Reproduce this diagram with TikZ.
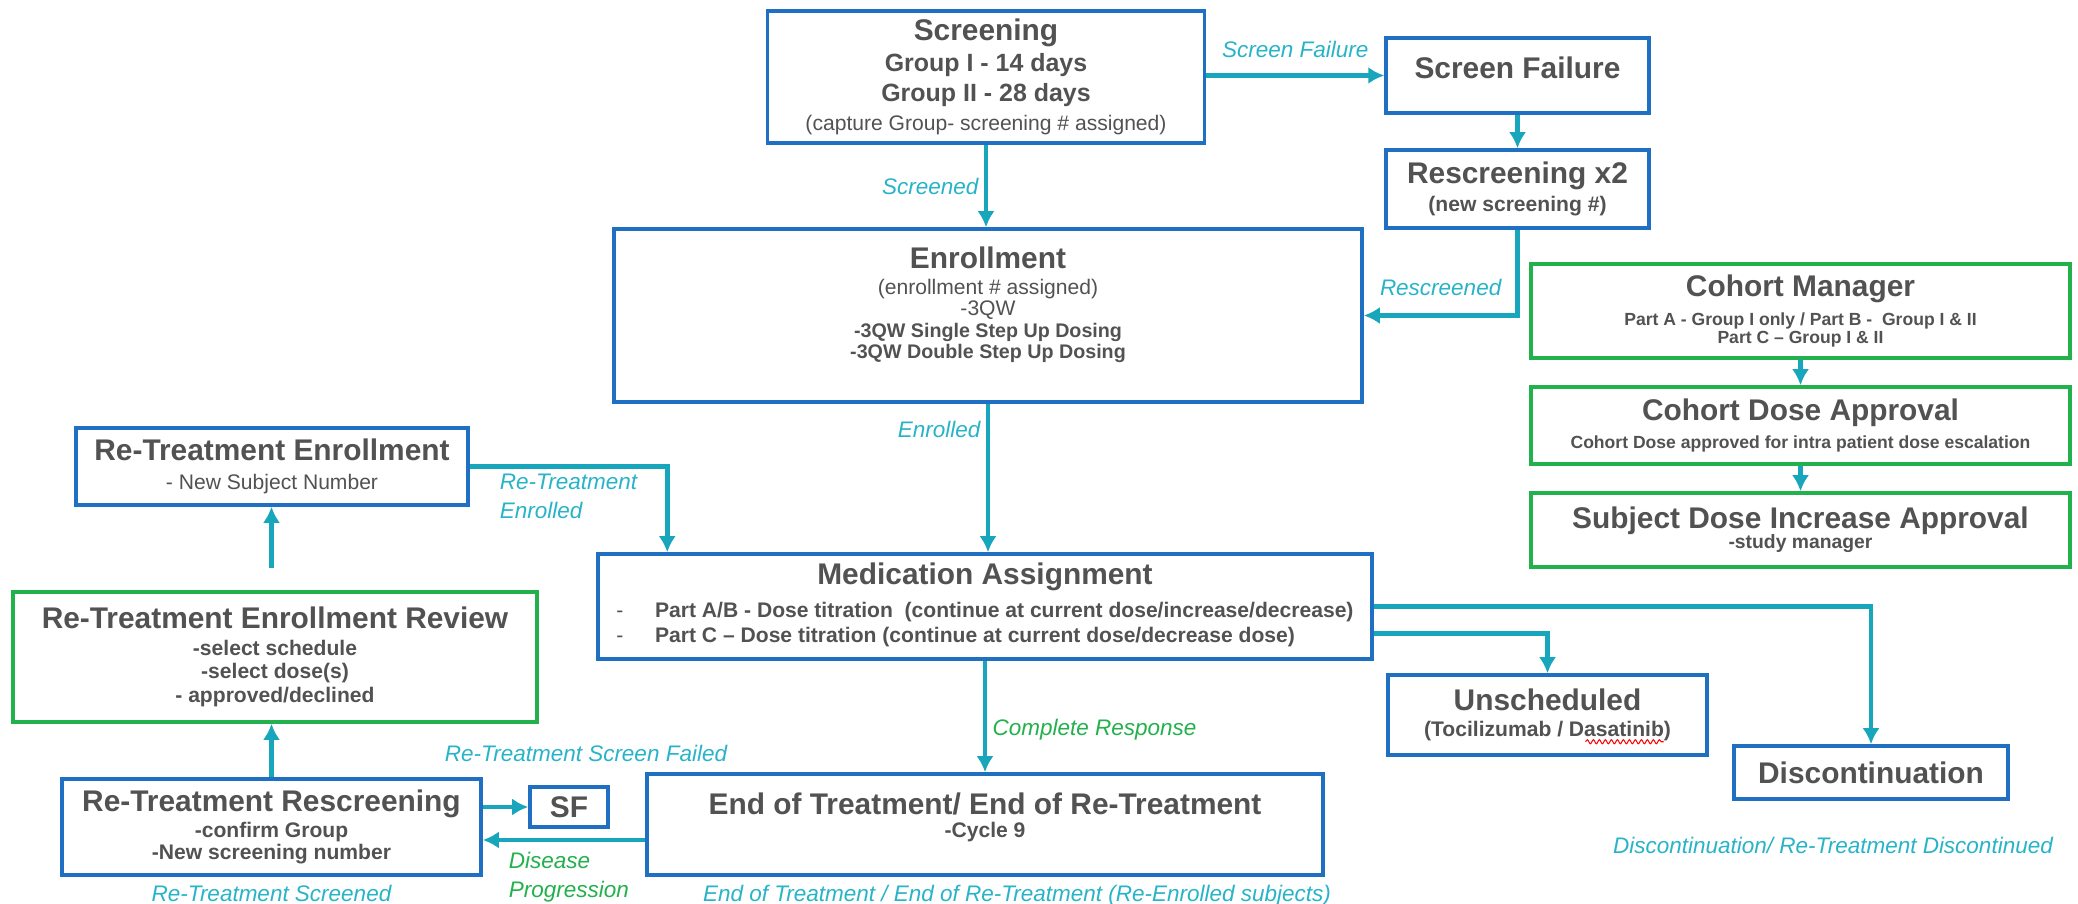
\documentclass[tikz,border=0pt]{standalone}
\usepackage{fontspec}
\setmainfont{Liberation Sans}
\usepackage{xcolor}
\usetikzlibrary{arrows.meta,positioning,decorations.pathmorphing}

\definecolor{boxblue}{RGB}{31,111,194}
\definecolor{boxgreen}{RGB}{34,177,76}
\definecolor{arrcyan}{RGB}{23,166,187}
\definecolor{lblcyan}{RGB}{40,180,200}
\definecolor{lblgreen}{RGB}{34,177,76}
\definecolor{txtgray}{RGB}{82,82,82}

\newcommand{\fs}[2]{\fontsize{#1}{#2}\selectfont}
\newcommand{\hdf}{\fs{8.5}{10}\bfseries}
\newcommand{\grpf}{\fs{7.1}{8.3}\bfseries}
\newcommand{\sbf}{\fs{6}{7.2}\bfseries}
\newcommand{\rgf}{\fs{6}{7.2}\mdseries}
\newcommand{\stf}{\fs{5.6}{6.3}\bfseries}
\newcommand{\smf}{\fs{5}{5.4}\bfseries}
\newcommand{\lblf}{\fs{6.4}{8.2}\itshape}

\tikzset{
  stage/.style={draw, line width=1pt, align=center, text=txtgray, inner sep=2pt, font=\rgf},
  flow/.style={stage, draw=boxblue},
  review/.style={stage, draw=boxgreen},
  arrow/.style={-{Latex[length=1.6mm,width=1.7mm]}, line width=1.3pt, draw=arrcyan},
  note/.style={font=\lblf, text=lblcyan, inner sep=1.5pt},
  noteg/.style={note, text=lblgreen},
  spellmark/.style={draw=red, line width=0.3pt, decorate, decoration={snake, segment length=0.6mm, amplitude=0.2mm}}
}

\begin{document}
\begin{tikzpicture}
    \fill[white] (0,0) rectangle (20.78,-9.04);
    \useasboundingbox (0,0) rectangle (20.78,-9.04);

    % Main flow
    \node[flow, font=\fs{6}{8.3}, minimum width=4.37cm, minimum height=1.32cm] (scr) at (9.86,-0.77)
      {\hdf Screening\\[0.5pt]\grpf Group I - 14 days\\ \grpf Group II - 28 days\\ \rgf (capture Group- screening \# assigned)};
    \node[flow, minimum width=2.63cm, minimum height=0.75cm] (sfail) at (15.175,-0.755)
      {\hdf Screen Failure\\[-2.5pt]\mbox{}};
    \node[flow, minimum width=2.63cm, minimum height=0.78cm] (resc) at (15.175,-1.89)
      {\hdf Rescreening x2\\[1pt] \sbf (new screening \#)};
    \node[flow, font=\fs{6}{6.1}, minimum width=7.48cm, minimum height=1.73cm] (enr) at (9.88,-3.155)
      {\hdf Enrollment\\[1.2pt] \rgf (enrollment \# assigned)\\ \rgf -3QW\\ \stf -3QW Single Step Up Dosing\\ \stf -3QW Double Step Up Dosing\\[1pt]\mbox{}};
    \node[flow, minimum width=7.74cm, minimum height=1.05cm] (med) at (9.85,-6.065)
      {\hdf Medication Assignment\\[1.5pt] \sbf\begin{tabular}{@{}l@{\hspace{9pt}}l@{}}
        \mdseries - & Part A/B - Dose titration\ \ (continue at current dose/increase/decrease)\\
        \mdseries - & Part C \textendash{} Dose titration (continue at current dose/decrease dose)
      \end{tabular}};
    \node[flow, minimum width=3.19cm, minimum height=0.80cm] (unsch) at (15.475,-7.15)
      {\hdf Unscheduled\\[0.3pt] \sbf (Tocilizumab / Dasatinib)};
    \node[flow, minimum width=2.74cm, minimum height=0.53cm] (disc) at (18.71,-7.725)
      {\hdf Discontinuation};
    \node[flow, font=\fs{6}{6.6}, minimum width=6.76cm, minimum height=1.01cm] (eot) at (9.85,-8.245)
      {\hdf End of Treatment/ End of Re-Treatment\\ \sbf -Cycle 9\\[-1.5pt]\mbox{}};

    % Re-treatment side
    \node[flow, minimum width=3.92cm, minimum height=0.77cm] (rtenr) at (2.72,-4.665)
      {\hdf Re-Treatment Enrollment\\[1.2pt] \rgf - New Subject Number};
    \node[review, font=\fs{6}{6.8}, minimum width=5.24cm, minimum height=1.30cm] (rtrev) at (2.75,-6.57)
      {\hdf Re-Treatment Enrollment Review\\[0.8pt] \sbf -select schedule\\ \sbf -select dose(s)\\ \sbf - approved/declined};
    \node[flow, font=\fs{6}{6.4}, minimum width=4.19cm, minimum height=0.96cm] (rtresc) at (2.715,-8.27)
      {\hdf Re-Treatment Rescreening\\[0.9pt] \sbf -confirm Group\\ \sbf -New screening number};
    \node[flow, minimum width=0.78cm, minimum height=0.40cm] (sfb) at (5.69,-8.07)
      {\hdf SF};

    % Cohort approvals
    \node[review, font=\fs{5}{5}, minimum width=5.39cm, minimum height=0.94cm] (cman) at (18.005,-3.11)
      {\hdf Cohort Manager\\[1.8pt]\smf Part A - Group I only / Part B -~ Group I \& II\\ \smf Part C \textendash{} Group I \& II};
    \node[review, font=\fs{5}{5}, minimum width=5.39cm, minimum height=0.77cm] (cdose) at (18.005,-4.255)
      {\hdf Cohort Dose Approval\\[1.6pt] \smf Cohort Dose approved for intra patient dose escalation};
    \node[review, font=\fs{5.5}{5}, minimum width=5.39cm, minimum height=0.74cm] (sdose) at (18.005,-5.30)
      {\hdf Subject Dose Increase Approval\\[-1pt] \fs{5.5}{5}\bfseries -study manager};

    % Arrows
    \draw[arrow] (scr.east |- sfail.west) -- (sfail.west) node[midway, above=3pt, note] {Screen Failure};
    \draw[arrow] (scr.south) -- (scr.south |- enr.north) node[midway, left, note] {Screened};
    \draw[arrow] (sfail) -- (resc);
    \draw[arrow] (resc.south) |- (enr.east) node[pos=0.75, above=3.5pt, note] {Rescreened};
    \draw[arrow] (enr.south) -- (enr.south |- med.north) node[pos=0.17, left, note] {Enrolled};
    \draw[arrow] (cman) -- (cdose);
    \draw[arrow] (cdose) -- (sdose);
    \draw[arrow] (rtenr.east) -| ([xshift=0.71cm]med.north west)
      node[pos=0.25, below, note, align=left] {Re-Treatment\\Enrolled};
    \draw[arrow] (med.east) -| (disc.north);
    \draw[arrow] ([yshift=-0.27cm]med.east) -| (unsch.north);
    \draw[arrow] (med.south) -- (med.south |- eot.north) node[pos=0.62, right, noteg] {Complete Response};
    \draw[arrow] ([yshift=-0.155cm]eot.west) -- ([yshift=-0.155cm]eot.west -| rtresc.east)
      node[pos=0.47, below, yshift=-0.05cm, noteg, align=left] {Disease\\Progression};
    \draw[arrow] (rtresc.east |- sfb.west) -- (sfb.west);
    \draw[arrow] (rtresc.north) -- (rtresc.north |- rtrev.south);
    \draw[arrow, shorten <=0.22cm] (rtresc.north |- rtrev.north) -- (rtresc.north |- rtenr.south);

    % spell-check mark under Dasatinib
    \draw[spellmark] ([xshift=0.38cm, yshift=0.15cm]unsch.south) -- ([xshift=1.16cm, yshift=0.15cm]unsch.south);

    % Outcome notes
    \node[note, above=0.18cm of sfb, xshift=0.17cm] (nsf) {Re-Treatment Screen Failed};
    \node[note, below=0.02cm of rtresc] (nrts) {Re-Treatment Screened};
    \node[note, below=0.02cm of eot, xshift=0.32cm] (neot) {End of Treatment / End of Re-Treatment (Re-Enrolled subjects)};
    \node[note, below=0.3cm of disc, xshift=-0.38cm] (ndisc) {Discontinuation/ Re-Treatment Discontinued};
\end{tikzpicture}
\end{document}
